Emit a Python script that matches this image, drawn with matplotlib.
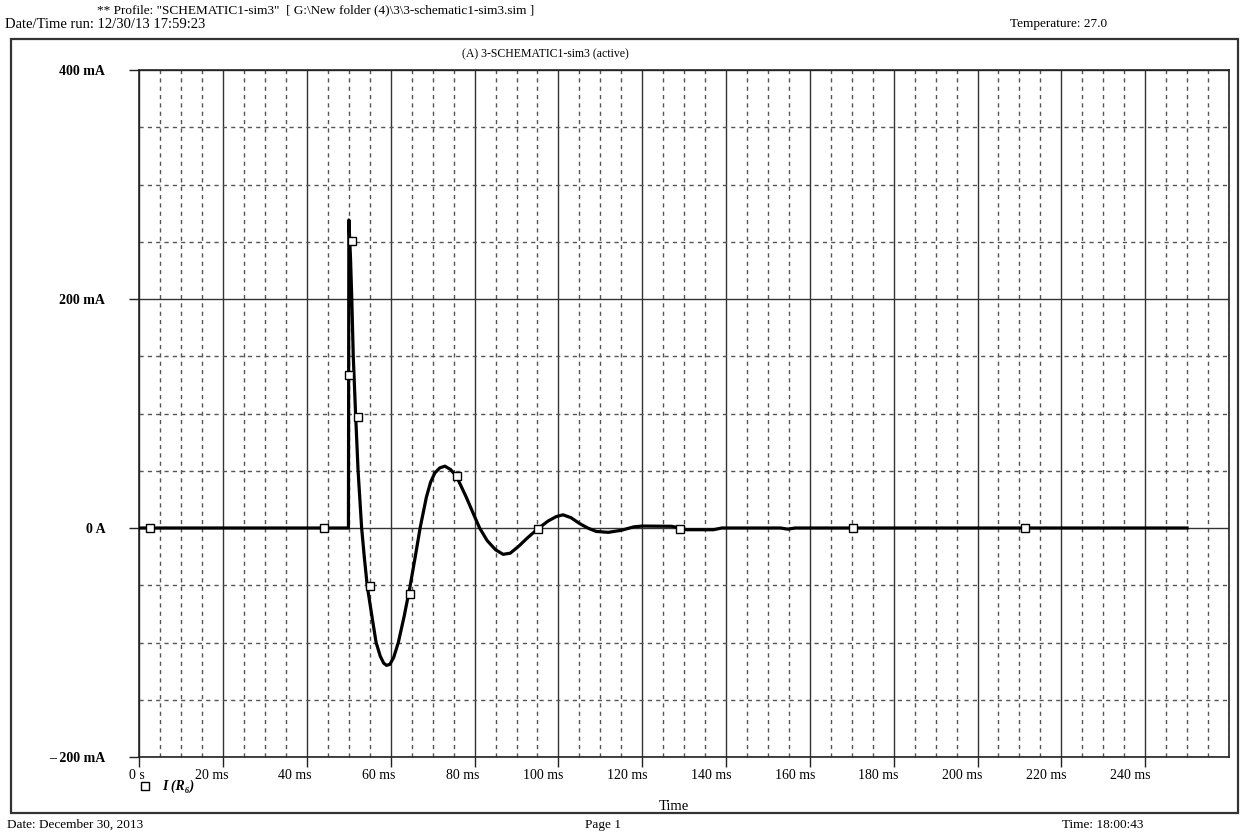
import matplotlib.pyplot as plt
from matplotlib.lines import Line2D
from matplotlib.patches import Rectangle
from matplotlib.ticker import MultipleLocator
from matplotlib.transforms import ScaledTranslation

plt.rcParams['font.family'] = ['Liberation Serif', 'DejaVu Serif']

# current through R6 (mA) vs time (ms)
time_ms = [0, 2.6, 44.1, 49.9, 50.0, 50.4, 50.7, 51.05, 51.6, 52.2, 53.05,
           53.7, 54.4, 55.5, 56.5, 57.5, 58.3, 59.0, 59.8, 60.7, 61.8, 63.2,
           64.6, 65.8, 67.0, 68.5, 69.5, 70.5, 71.7, 72.9, 74.3, 75.7, 78.0, 80.0,
           81.2, 83.0, 85.0, 86.8, 88.5, 90.5, 92.5, 95.0, 97.5, 99.5, 101.1,
           103.0, 105.0, 107.0, 109.0, 111.9, 115.0, 118.0, 120.0, 127.0,
           129.0, 130.6, 137.0, 139.0, 153.0, 154.7, 156.5, 200.0, 250.0]
current_ma = [0, 0, 0, 0, 269, 235, 200, 150, 100, 50, 0,
              -26, -51, -77, -100, -112, -118, -120, -119, -113, -100, -77,
              -51, -26, 0, 27, 40, 48, 52.5, 54, 51, 45, 27, 10,
              0, -11, -19, -23, -22, -16, -9, -1, 6, 10, 11.5,
              9, 4, 0, -3, -3.8, -2, 1, 1.7, 1.5,
              0, -1.5, -1.5, 0, 0, -1, 0, 0, 0]

# probe marker positions
marker_t = [2.6, 44.1, 50.7, 50.1, 52.1, 55.0, 64.5, 75.7, 95.2, 129.0, 170.3, 211.3]
marker_i = [0, 0, 251, 134, 97, -51, -58, 45, -1, -1, 0, 0]

x_ticks = list(range(0, 241, 20))
x_labels = ['0 s'] + ['%d ms' % t for t in x_ticks[1:]]
y_ticks = [-200, 0, 200, 400]
y_labels = ['\u2013 200 mA', '0 A', '200 mA', '400 mA']

W, H = 1242, 836
fig = plt.figure(figsize=(W / 100, H / 100), dpi=100)

x0, x1, y0, y1 = 139.3, 1229, 70, 757
ax = fig.add_axes([x0 / W, 1 - y1 / H, (x1 - x0) / W, (y1 - y0) / H])

ax.plot(time_ms, current_ma, color='black', lw=2.3, solid_joinstyle='round', zorder=3)
ax.plot(marker_t, marker_i, ls='none', marker='s', ms=6, mfc='white', mec='black', mew=1, zorder=4)

ax.set_xlim(0, 260)
ax.set_ylim(-200, 400)
ax.set_xticks(x_ticks)
ax.set_xticklabels(x_labels)
ax.set_yticks(y_ticks)
ax.set_yticklabels(y_labels, fontweight='bold')
ax.xaxis.set_minor_locator(MultipleLocator(5))
ax.yaxis.set_minor_locator(MultipleLocator(50))

ax.grid(which='major', color='#333333', lw=1.0, ls='-')
ax.grid(which='minor', color='#555555', lw=1.0, ls=(0, (3, 3)))
ax.set_axisbelow(True)

ax.tick_params(which='major', direction='out', length=7.5, width=1, color='#222222', labelsize=10)
ax.tick_params(which='minor', length=0)
ax.tick_params(axis='x', pad=1)
ax.tick_params(axis='y', pad=17)
for s in ax.spines.values():
    s.set_color('#222222')
    s.set_linewidth(1.2)

# x labels sit just left of their tick, as in the original printout
shift = ScaledTranslation(5 / 100, 0, fig.dpi_scale_trans)
for lab in ax.get_xticklabels():
    lab.set_ha('right')
    lab.set_transform(lab.get_transform() + shift)

# outer frame
fig.add_artist(Rectangle((11 / W, 1 - 813 / H), (1238 - 11) / W, (813 - 39) / H,
                         transform=fig.transFigure, fill=False, ec='#333333', lw=1.6))

# header / footer text
fig.text(97 / W, 1 - 10 / H, '** Profile: "SCHEMATIC1-sim3"  [ G:\\New folder (4)\\3\\3-schematic1-sim3.sim ]',
         fontsize=9.5, va='center', ha='left')
fig.text(5 / W, 1 - 24 / H, 'Date/Time run: 12/30/13 17:59:23', fontsize=10.5, va='center', ha='left')
fig.text(1010 / W, 1 - 24 / H, 'Temperature: 27.0', fontsize=9.5, va='center', ha='left')
fig.text(545 / W, 1 - 54 / H, '(A) 3-SCHEMATIC1-sim3 (active)', fontsize=8.5, va='center', ha='center')
fig.text(674 / W, 1 - 806 / H, 'Time', fontsize=10.5, va='center', ha='center')
fig.text(7 / W, 1 - 825 / H, 'Date: December 30, 2013', fontsize=9.5, va='center', ha='left')
fig.text(603 / W, 1 - 825 / H, 'Page 1', fontsize=9.5, va='center', ha='center')
fig.text(1062 / W, 1 - 825 / H, 'Time: 18:00:43', fontsize=9.5, va='center', ha='left')

# legend entry
fig.add_artist(Line2D([145 / W], [1 - 786 / H], transform=fig.transFigure, ls='none',
                      marker='s', ms=6, mfc='white', mec='black', mew=1))
fig.text(162 / W, 1 - 786 / H, 'I (R\u2086)', fontsize=10, fontweight='bold', style='italic',
         va='center', ha='left')

fig.savefig('out.png', dpi=100)
